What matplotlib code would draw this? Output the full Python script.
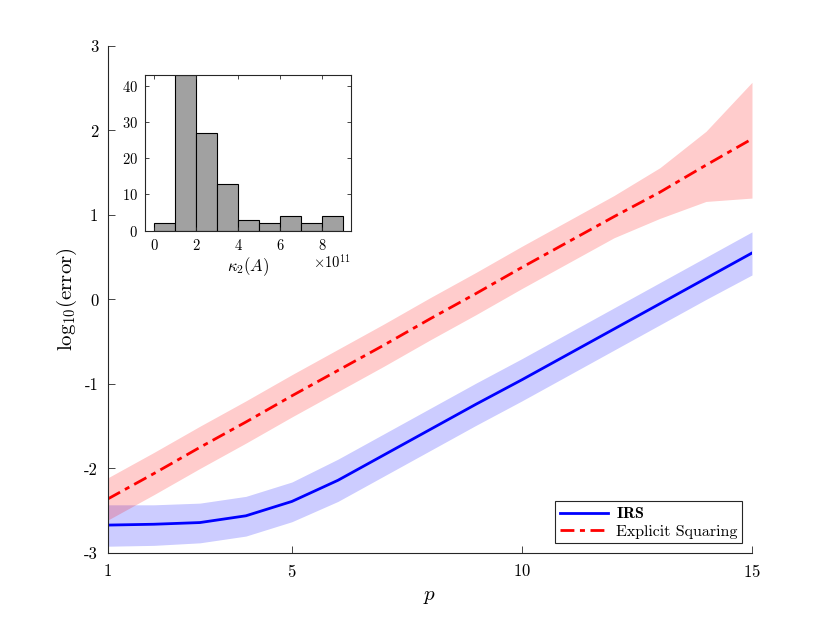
import matplotlib
matplotlib.use("Agg")
from matplotlib import pyplot as plt
import numpy as np

plt.rcParams['font.family'] = 'cmr10'
plt.rcParams['mathtext.fontset'] = 'cm'
plt.rcParams['axes.unicode_minus'] = False
plt.rcParams['axes.formatter.use_mathtext'] = True

p = [1, 2, 3, 4, 5, 6, 7, 8, 9, 10, 11, 12, 13, 14, 15]

irs_mean = [-2.67, -2.66, -2.64, -2.56, -2.39, -2.14, -1.84, -1.54, -1.24, -0.95, -0.65, -0.35, -0.05, 0.25, 0.55]
irs_upper = [-2.43, -2.43, -2.41, -2.33, -2.16, -1.89, -1.59, -1.29, -0.99, -0.70, -0.40, -0.10, 0.20, 0.50, 0.80]
irs_lower = [-2.92, -2.91, -2.88, -2.80, -2.63, -2.39, -2.09, -1.79, -1.49, -1.20, -0.90, -0.60, -0.30, 0.00, 0.29]

sq_mean = [-2.36, -2.06, -1.75, -1.45, -1.14, -0.84, -0.54, -0.23, 0.07, 0.38, 0.68, 0.98, 1.27, 1.59, 1.90]
sq_upper = [-2.11, -1.81, -1.50, -1.20, -0.89, -0.59, -0.29, 0.02, 0.32, 0.63, 0.93, 1.23, 1.56, 1.99, 2.57]
sq_lower = [-2.61, -2.31, -2.00, -1.70, -1.39, -1.09, -0.79, -0.48, -0.18, 0.13, 0.43, 0.73, 0.96, 1.16, 1.20]

# histogram of condition numbers (x 1e11)
bin_edges = [0, 1, 2, 3, 4, 5, 6, 7, 8, 9]
counts = [2, 43, 27, 13, 3, 2, 4, 2, 4]

axc = (0.15, 0.15, 0.15)

fig = plt.figure(figsize=(8.3, 6.23), dpi=100)
ax = fig.add_axes([0.130, 0.1124, 0.776, 0.8138])

ax.fill_between(p, irs_lower, irs_upper, color='blue', alpha=0.2, linewidth=0)
ax.fill_between(p, sq_lower, sq_upper, color='red', alpha=0.2, linewidth=0)
ax.plot(p, irs_mean, '-', color='blue', linewidth=2, label=r'$\mathbf{IRS}$')
ax.plot(p, sq_mean, '-.', color='red', linewidth=2, dashes=(5, 2, 1.8, 2),
        label='Explicit Squaring')

ax.set_xlim(1, 15)
ax.set_ylim(-3, 3)
ax.set_xticks([1, 5, 10, 15])
ax.set_yticks([-3, -2, -1, 0, 1, 2, 3])
ax.set_yticklabels(['-3', '-2', '-1', '0', '1', '2', '3'])
ax.tick_params(direction='in', length=5, width=0.6, labelsize=12, colors=axc, labelcolor='black', pad=7)
for s in ['top', 'right']:
    ax.spines[s].set_visible(False)
for s in ['left', 'bottom']:
    ax.spines[s].set_color(axc)
    ax.spines[s].set_linewidth(0.8)
ax.set_xlabel(r'$p$', fontsize=15, labelpad=6)
ax.set_ylabel(r'$\mathrm{log}_{10}(\mathrm{error})$', fontsize=15, labelpad=4)

leg = ax.legend(loc='lower right', fontsize=11.5, fancybox=False, framealpha=1,
                edgecolor=axc, borderaxespad=0.6, handlelength=3.0, borderpad=0.3,
                labelspacing=0.2, handletextpad=0.5)
leg.get_frame().set_linewidth(0.8)

# inset
axi = fig.add_axes([0.1747, 0.6297, 0.2478, 0.25])
axi.bar(bin_edges[:-1], counts, width=1, align='edge', color=(0.63, 0.63, 0.63),
        edgecolor='black', linewidth=0.8)
axi.set_xlim(-0.45, 9.35)
axi.set_ylim(0, 43)
axi.set_xticks([0, 2, 4, 6, 8])
axi.set_yticks([0, 10, 20, 30, 40])
axi.tick_params(direction='in', length=3, width=0.6, labelsize=10.5, colors=axc,
                labelcolor='black', top=True, right=True, pad=5)
for s in axi.spines.values():
    s.set_color(axc)
    s.set_linewidth(0.8)
axi.set_xlabel(r'$\kappa_2(A)$', fontsize=12, labelpad=2)
axi.text(1.0, -0.2, r'$\times10^{11}$', transform=axi.transAxes, ha='right', va='center', fontsize=10.5)

plt.savefig('out.png', dpi=100)
